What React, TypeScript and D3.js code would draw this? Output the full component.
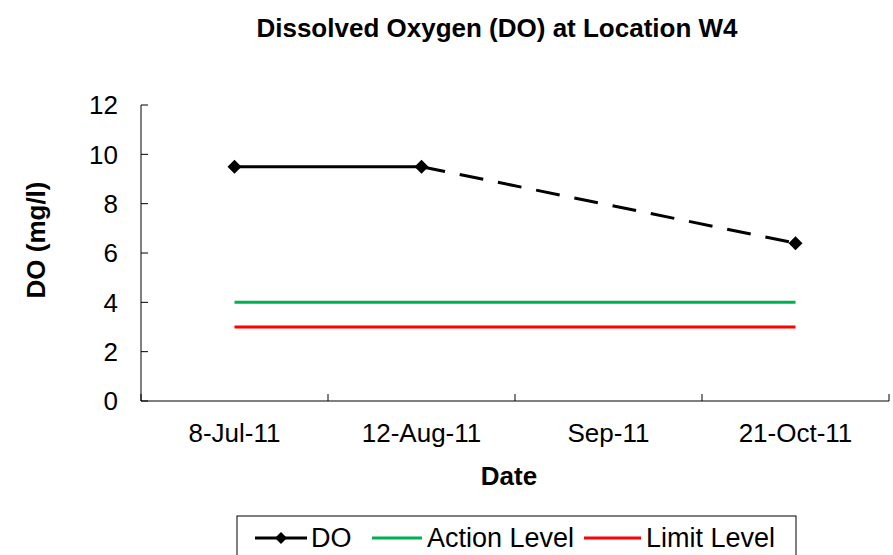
import React from 'react';
import * as d3 from 'd3';

const categories = ['8-Jul-11', '12-Aug-11', 'Sep-11', '21-Oct-11'];
const doValues: (number | null)[] = [9.5, 9.5, null, 6.4];
const actionLevel = [4, 4, 4, 4];
const limitLevel = [3, 3, 3, 3];
const yTicks = [0, 2, 4, 6, 8, 10, 12];

const App = () => {
  const width = 893, height = 555;
  const margin = { top: 105, right: 4, bottom: 154, left: 141 };
  const h = height - margin.top - margin.bottom;

  const x = d3.scaleBand().domain(categories).range([margin.left, 889]);
  const y = d3.scaleLinear().domain([0, 12]).range([margin.top + h, margin.top]);
  const cx = (c: string) => (x(c) as number) + x.bandwidth() / 2;

  const font = 'Arial, "Liberation Sans", sans-serif';

  const pts = categories
    .map((c, i) => ({ c, v: doValues[i] }))
    .filter(d => d.v !== null) as { c: string; v: number }[];

  // solid where consecutive, dashed across a missing category
  const segs = [];
  for (let i = 1; i < pts.length; i++) {
    const a = pts[i - 1], b = pts[i];
    const gap = categories.indexOf(b.c) - categories.indexOf(a.c) > 1;
    segs.push(
      <line key={i} x1={cx(a.c)} y1={y(a.v)} x2={cx(b.c)} y2={y(b.v)}
        stroke="#000" strokeWidth={3} strokeDasharray={gap ? '24,15' : undefined} />
    );
  }

  const flat = (vals: number[], color: string) => {
    const line = d3.line<number>().x((_, i) => cx(categories[i])).y(d => y(d));
    return <path d={line(vals) || ''} fill="none" stroke={color} strokeWidth={3} />;
  };

  const diamond = (px: number, py: number, k: string | number, s = 7) => (
    <path key={k} d={`M${px},${py - s}L${px + s},${py}L${px},${py + s}L${px - s},${py}Z`} fill="#000" />
  );

  const yBase = y(0);
  const xTickPos = [margin.left, ...categories.map(c => (x(c) as number) + x.bandwidth())];

  return (
    <svg width={width} height={height} style={{ position: 'absolute', left: 0, top: 0 }} fontFamily={font}>
      <rect width={width} height={height} fill="#fff" />
      <text x={497} y={37} textAnchor="middle" fontSize={26} fontWeight="bold">
        Dissolved Oxygen (DO) at Location W4
      </text>

      {/* y axis */}
      <line x1={margin.left} x2={margin.left} y1={y(12)} y2={yBase} stroke="#000" />
      {yTicks.map(t => (
        <g key={t}>
          <line x1={margin.left} x2={margin.left + 7} y1={y(t)} y2={y(t)} stroke="#000" />
          <text x={118} y={y(t)} dy="0.36em" textAnchor="end" fontSize={26}>{t}</text>
        </g>
      ))}
      <text transform="translate(45,240) rotate(-90)" textAnchor="middle" fontSize={26} fontWeight="bold">
        DO (mg/l)
      </text>

      {/* x axis */}
      <line x1={margin.left} x2={889} y1={yBase} y2={yBase} stroke="#000" />
      {xTickPos.map((p, i) => (
        <line key={i} x1={p} x2={p} y1={yBase} y2={yBase - 7} stroke="#000" />
      ))}
      {categories.map(c => (
        <text key={c} x={cx(c)} y={442} textAnchor="middle" fontSize={26}>{c}</text>
      ))}
      <text x={509} y={485} textAnchor="middle" fontSize={26} fontWeight="bold">Date</text>

      {flat(actionLevel, '#00b050')}
      {flat(limitLevel, '#ff0000')}
      {segs}
      {pts.map((d, i) => diamond(cx(d.c), y(d.v), i))}

      {/* legend */}
      <rect x={237} y={516} width={559} height={45} fill="#fff" stroke="#000" />
      <line x1={255} x2={307} y1={538} y2={538} stroke="#000" strokeWidth={3} />
      {diamond(281, 538, 'leg', 6)}
      <text x={311} y={547} fontSize={27}>DO</text>
      <line x1={372} x2={422} y1={538} y2={538} stroke="#00b050" strokeWidth={3} />
      <text x={427} y={547} fontSize={27}>Action Level</text>
      <line x1={584} x2={641} y1={538} y2={538} stroke="#ff0000" strokeWidth={3} />
      <text x={646} y={547} fontSize={27}>Limit Level</text>
    </svg>
  );
};

export default App;
